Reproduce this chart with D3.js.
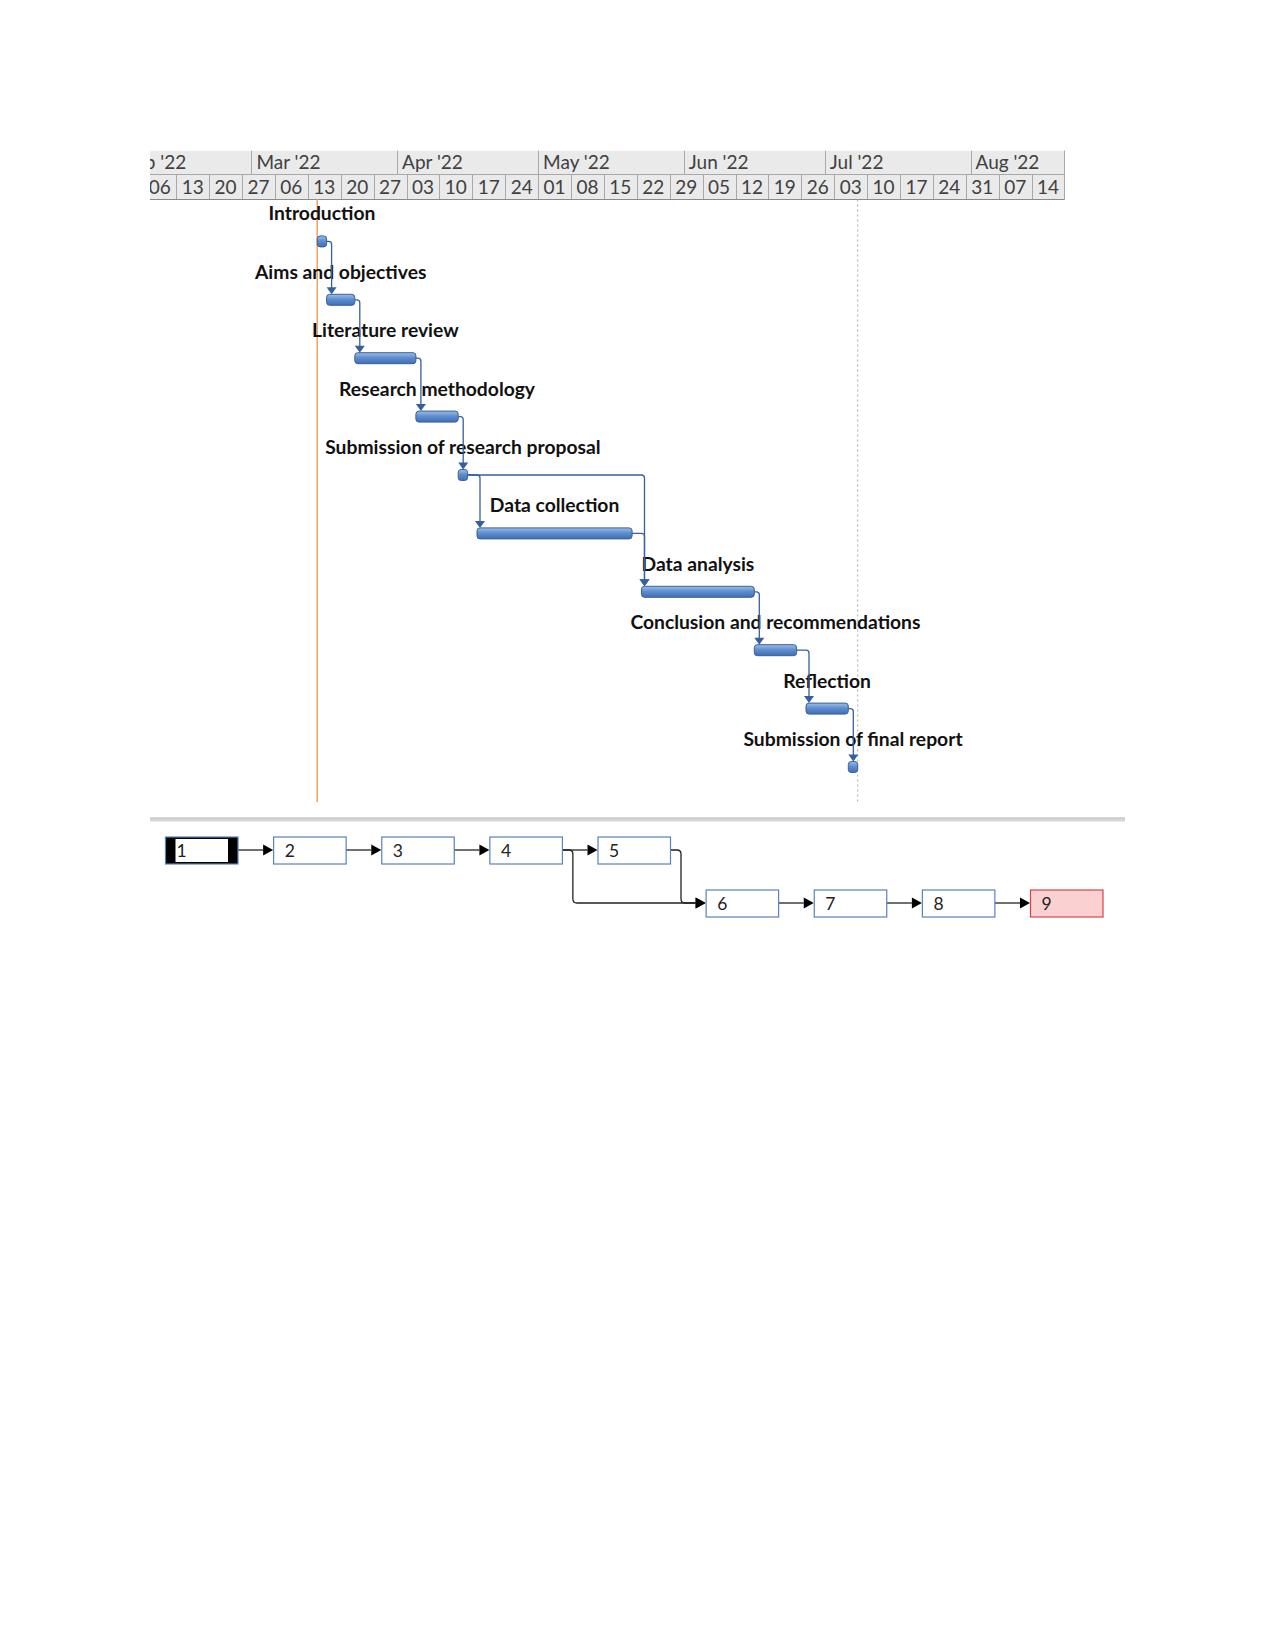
<!DOCTYPE html>
<html>
<head>
<meta charset="utf-8">
<script src="https://cdn.jsdelivr.net/npm/d3@7"></script>
<style>
  body { margin: 0; background: #fff; }
  svg { display: block; }
</style>
</head>
<body>
<div id="chart"></div>
<script>
// gantt tasks
const taskNames = [
  'Introduction',
  'Aims and objectives',
  'Literature review',
  'Research methodology',
  'Submission of research proposal',
  'Data collection',
  'Data analysis',
  'Conclusion and recommendations',
  'Reflection',
  'Submission of final report'
];
const taskStarts = ['2022-03-15', '2022-03-17', '2022-03-23', '2022-04-05', '2022-04-14',
                    '2022-04-18', '2022-05-23', '2022-06-16', '2022-06-27', '2022-07-06'];
const taskEnds   = ['2022-03-17', '2022-03-23', '2022-04-05', '2022-04-14', '2022-04-16',
                    '2022-05-21', '2022-06-16', '2022-06-25', '2022-07-06', '2022-07-08'];
// predecessor -> successor (task numbers)
const taskLinks = [[1, 2], [2, 3], [3, 4], [4, 5], [5, 6], [5, 7], [6, 7], [7, 8], [8, 9], [9, 10]];

const timelineStart = '2022-02-06';
const timelineEnd = '2022-08-21';
const statusDate = '2022-03-15';
const finishDate = '2022-07-08';

// network diagram
const networkIds = [1, 2, 3, 4, 5, 6, 7, 8, 9];
const networkLinks = [[1, 2], [2, 3], [3, 4], [4, 5], [4, 6], [5, 6], [6, 7], [7, 8], [8, 9]];
const selectedNode = 1;
const highlightNode = 9;

const width = 1275;
const height = 1650;
const parse = d3.timeParse('%Y-%m-%d');

const svg = d3.select('#chart')
  .append('svg')
  .attr('width', width)
  .attr('height', height);

const x = d3.scaleTime()
  .domain([parse(timelineStart), parse(timelineEnd)])
  .range([143.3, 1064.5]);

const y = d3.scalePoint()
  .domain(taskNames)
  .range([241.4, 767]);

const clipLeft = 150, clipRight = 1065;
const headTop = 150.5, headMid = 174.5, headBot = 199.5;
const labelFont = 'Lato, "Open Sans", sans-serif';

svg.append('clipPath').attr('id', 'hclip')
  .append('rect')
  .attr('x', clipLeft).attr('y', headTop)
  .attr('width', clipRight - clipLeft).attr('height', headBot - headTop);

// gradient for bars
const grad = svg.append('defs').append('linearGradient')
  .attr('id', 'bar').attr('x1', 0).attr('y1', 0).attr('x2', 0).attr('y2', 1);
grad.append('stop').attr('offset', '0%').attr('stop-color', '#9dbde6');
grad.append('stop').attr('offset', '45%').attr('stop-color', '#5f8fd0');
grad.append('stop').attr('offset', '100%').attr('stop-color', '#3f6fb4');

// timescale header
const head = svg.append('g').attr('clip-path', 'url(#hclip)');
head.append('rect')
  .attr('x', clipLeft).attr('y', headTop)
  .attr('width', clipRight - clipLeft).attr('height', headBot - headTop)
  .attr('fill', '#eaeaea');

const months = d3.timeMonth.range(d3.timeMonth.floor(x.domain()[0]), x.domain()[1]);
head.selectAll('line.month')
  .data(months)
  .join('line')
    .attr('class', 'month')
    .attr('x1', d => Math.round(x(d)) + 0.5).attr('x2', d => Math.round(x(d)) + 0.5)
    .attr('y1', headTop).attr('y2', headMid)
    .attr('stroke', '#a8a8a8');
head.selectAll('text.month')
  .data(months)
  .join('text')
    .attr('class', 'month')
    .attr('x', d => x(d) + 5)
    .attr('y', headMid - 6)
    .attr('font-family', labelFont)
    .attr('font-size', '19px')
    .attr('fill', '#404040')
    .text(d3.timeFormat("%b '%y"));

const weeks = d3.timeWeek.range(x.domain()[0], x.domain()[1]);
head.selectAll('line.week')
  .data(weeks.slice(1))
  .join('line')
    .attr('class', 'week')
    .attr('x1', d => Math.round(x(d)) + 0.5).attr('x2', d => Math.round(x(d)) + 0.5)
    .attr('y1', headMid).attr('y2', headBot)
    .attr('stroke', '#a8a8a8');
head.selectAll('text.week')
  .data(weeks)
  .join('text')
    .attr('class', 'week')
    .attr('x', d => (x(d) + x(d3.timeWeek.offset(d, 1))) / 2)
    .attr('y', headBot - 6)
    .attr('text-anchor', 'middle')
    .attr('font-family', labelFont)
    .attr('font-size', '19px')
    .attr('fill', '#404040')
    .text(d3.timeFormat('%d'));

head.append('line')
  .attr('x1', clipLeft).attr('x2', clipRight)
  .attr('y1', headMid).attr('y2', headMid)
  .attr('stroke', '#a8a8a8');
svg.append('line')
  .attr('x1', clipLeft).attr('x2', clipRight)
  .attr('y1', headBot).attr('y2', headBot)
  .attr('stroke', '#8a8a8a');
svg.append('line')
  .attr('x1', clipRight - 0.5).attr('x2', clipRight - 0.5)
  .attr('y1', headTop).attr('y2', headBot)
  .attr('stroke', '#a8a8a8');

// status and finish lines
svg.append('line')
  .attr('x1', x(parse(statusDate))).attr('x2', x(parse(statusDate)))
  .attr('y1', headBot).attr('y2', 802)
  .attr('stroke', '#f4a15d').attr('stroke-width', 1.5);
svg.append('line')
  .attr('x1', x(parse(finishDate))).attr('x2', x(parse(finishDate)))
  .attr('y1', headBot).attr('y2', 802)
  .attr('stroke', '#a9a9a9').attr('stroke-dasharray', '2,3');

// tasks
const tasks = taskNames.map((name, i) => ({
  id: i + 1, name, start: parse(taskStarts[i]), end: parse(taskEnds[i])
}));
const barH = 11;
const linkColor = '#35609f';

svg.append('g')
  .selectAll('text')
  .data(tasks)
  .join('text')
    .attr('x', d => (x(d.start) + x(d.end)) / 2)
    .attr('y', d => y(d.name) - 21)
    .attr('text-anchor', 'middle')
    .attr('font-family', labelFont)
    .attr('font-weight', 'bold')
    .attr('font-size', '19.3px')
    .attr('fill', '#111')
    .text(d => d.name);

// dependency links
const links = svg.append('g');
taskLinks.forEach(([a, b]) => {
  const p = tasks[a - 1], s = tasks[b - 1];
  const px = x(p.end), py = y(p.name);
  const sx = Math.max(px + 5, x(s.start) + 3);
  const sy = y(s.name) - barH / 2;
  const r = 3;
  links.append('path')
    .attr('d', `M${px},${py}H${sx - r}Q${sx},${py} ${sx},${py + r}V${sy - 6}`)
    .attr('fill', 'none')
    .attr('stroke', linkColor)
    .attr('stroke-width', 1.3);
  links.append('path')
    .attr('d', `M${sx - 5},${sy - 7}L${sx + 5},${sy - 7}L${sx},${sy}Z`)
    .attr('fill', linkColor);
});

svg.append('g')
  .selectAll('rect')
  .data(tasks)
  .join('rect')
    .attr('x', d => x(d.start))
    .attr('y', d => y(d.name) - barH / 2)
    .attr('width', d => x(d.end) - x(d.start))
    .attr('height', barH)
    .attr('rx', 3)
    .attr('fill', 'url(#bar)')
    .attr('stroke', '#3a5f96')
    .attr('stroke-width', 1);

// separator
svg.append('rect')
  .attr('x', clipLeft).attr('y', 817.5)
  .attr('width', 975).attr('height', 4)
  .attr('fill', '#d6d6d6');
svg.append('line')
  .attr('x1', clipLeft).attr('x2', clipLeft + 975)
  .attr('y1', 818).attr('y2', 818)
  .attr('stroke', '#c2c2c2');

// network diagram
const nodeRow = [];
networkIds.forEach((id, i) => {
  const preds = networkLinks.filter(l => l[1] === id).length;
  const prev = i ? nodeRow[i - 1] : 0;
  nodeRow.push(prev + (preds > 1 ? 1 : 0));
});
const nx = d3.scaleLinear().domain([0, networkIds.length - 1]).range([165, 1030]);
const ny = d3.scaleLinear().domain([0, 1]).range([836.5, 889.5]);
const boxW = 72.5, boxH = 27;
const nodes = networkIds.map((id, i) => ({ id, x: nx(i), y: ny(nodeRow[i]) }));

const net = svg.append('g');
networkLinks.forEach(([a, b]) => {
  const p = nodes[a - 1], s = nodes[b - 1];
  const x0 = p.x + boxW, y0 = p.y + boxH / 2;
  const x1 = s.x - 10, y1 = s.y + boxH / 2;
  let d;
  if (y0 === y1) {
    d = `M${x0},${y0}H${x1}`;
  } else {
    const bx = x0 + 11, r = 4;
    d = `M${x0},${y0}H${bx - r}Q${bx},${y0} ${bx},${y0 + r}V${y1 - r}Q${bx},${y1} ${bx + r},${y1}H${x1}`;
  }
  net.append('path')
    .attr('d', d)
    .attr('fill', 'none')
    .attr('stroke', '#222')
    .attr('stroke-width', 1.3);
  net.append('path')
    .attr('d', `M${x1},${y1 - 5.5}L${s.x},${y1}L${x1},${y1 + 5.5}Z`)
    .attr('fill', '#000');
});

net.selectAll('rect.node')
  .data(nodes)
  .join('rect')
    .attr('class', 'node')
    .attr('x', d => d.x + 0.5)
    .attr('y', d => d.y + 0.5)
    .attr('width', boxW)
    .attr('height', boxH)
    .attr('fill', d => d.id === highlightNode ? '#fbd0d0' : d.id === selectedNode ? '#000' : '#fff')
    .attr('stroke', d => d.id === highlightNode ? '#d9414a' : '#5b82b8')
    .attr('stroke-width', 1.2);

const sel = nodes[selectedNode - 1];
net.append('rect')
  .attr('x', sel.x + 10.5).attr('y', sel.y + 2.5)
  .attr('width', boxW - 20).attr('height', boxH - 4)
  .attr('fill', '#fff');

net.selectAll('text')
  .data(nodes)
  .join('text')
    .attr('x', d => d.x + 11.5)
    .attr('y', d => d.y + boxH / 2 + 6.5)
    .attr('font-family', labelFont)
    .attr('font-size', '17.5px')
    .attr('fill', '#222')
    .text(d => d.id);
</script>
</body>
</html>
